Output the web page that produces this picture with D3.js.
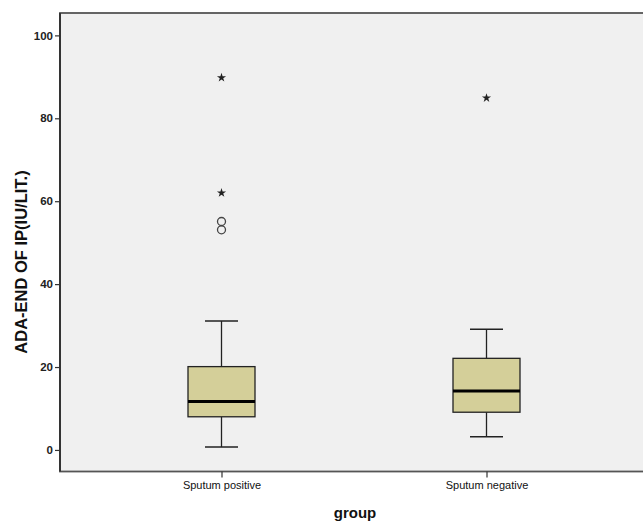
<!DOCTYPE html>
<html><head><meta charset="utf-8">
<script src="https://cdn.jsdelivr.net/npm/d3@7"></script>
<style>body{margin:0;background:#fff}svg{display:block}</style>
</head><body>
<svg id="c" width="643" height="521"></svg>
<script>
const categories = ["Sputum positive", "Sputum negative"];
const q1 = [8.0, 9.1];
const medians = [11.7, 14.2];
const q3 = [20.1, 22.1];
const whiskerLow = [0.7, 3.2];
const whiskerHigh = [31.1, 29.1];
const outlierCategory = ["Sputum positive", "Sputum positive"];
const outlierValues = [55.1, 53.1];
const extremeCategory = ["Sputum positive", "Sputum positive", "Sputum negative"];
const extremeValues = [89.8, 62.0, 84.9];
const yTicks = [0, 20, 40, 60, 80, 100];

const svg = d3.select("#c");
const plotLeft = 60, plotRight = 650, plotTop = 13, plotBottom = 471.5;
const y = d3.scaleLinear().domain([-5.2, 105.4]).range([plotBottom, plotTop]);
const x = d3.scalePoint().domain(categories).range([221.5, 486.5]).padding(0);
const boxW = 67, capW = 33;
const font = "Arial, 'Liberation Sans', sans-serif";

svg.append("rect").attr("x", plotLeft).attr("y", plotTop).attr("width", plotRight - plotLeft).attr("height", plotBottom - plotTop)
  .attr("fill", "#f0f0f0").attr("stroke", "#555").attr("stroke-width", 1.8);
svg.append("line").attr("x1", plotLeft).attr("x2", plotLeft).attr("y1", plotTop).attr("y2", plotBottom)
  .attr("stroke", "#333").attr("stroke-width", 2);

// y axis
const ya = svg.append("g").attr("transform", `translate(${plotLeft},0)`)
  .call(d3.axisLeft(y).tickValues(yTicks).tickSize(5).tickPadding(2).tickFormat(d3.format("d")));
ya.select(".domain").remove();
ya.selectAll("line").attr("stroke", "#333").attr("stroke-width", 1.2);
ya.selectAll("text").attr("font-family", font).attr("font-size", 11.5).attr("font-weight", "bold").attr("fill", "#222");

// x axis
const xa = svg.append("g").attr("transform", `translate(0,${plotBottom})`)
  .call(d3.axisBottom(x).tickSize(6).tickPadding(4));
xa.select(".domain").remove();
xa.selectAll("line").attr("stroke", "#333").attr("stroke-width", 1.2);
xa.selectAll("text").attr("font-family", font).attr("font-size", 11).attr("fill", "#111");

// boxes
const g = svg.append("g");
categories.forEach((c, i) => {
  const cx = x(c);
  g.append("line").attr("x1", cx).attr("x2", cx).attr("y1", y(q3[i])).attr("y2", y(whiskerHigh[i])).attr("stroke", "#222").attr("stroke-width", 1.3);
  g.append("line").attr("x1", cx).attr("x2", cx).attr("y1", y(q1[i])).attr("y2", y(whiskerLow[i])).attr("stroke", "#222").attr("stroke-width", 1.3);
  g.append("line").attr("x1", cx - capW / 2).attr("x2", cx + capW / 2).attr("y1", y(whiskerHigh[i])).attr("y2", y(whiskerHigh[i])).attr("stroke", "#222").attr("stroke-width", 1.5);
  g.append("line").attr("x1", cx - capW / 2).attr("x2", cx + capW / 2).attr("y1", y(whiskerLow[i])).attr("y2", y(whiskerLow[i])).attr("stroke", "#222").attr("stroke-width", 1.5);
  g.append("rect").attr("x", cx - boxW / 2).attr("y", y(q3[i])).attr("width", boxW).attr("height", y(q1[i]) - y(q3[i]))
    .attr("fill", "#d4cf99").attr("stroke", "#222").attr("stroke-width", 1.3);
  g.append("line").attr("x1", cx - boxW / 2).attr("x2", cx + boxW / 2).attr("y1", y(medians[i])).attr("y2", y(medians[i])).attr("stroke", "#000").attr("stroke-width", 3);
});

// outliers
outlierValues.forEach((v, i) => {
  g.append("circle").attr("cx", x(outlierCategory[i])).attr("cy", y(v)).attr("r", 4)
    .attr("fill", "none").attr("stroke", "#444").attr("stroke-width", 1.3);
});
extremeValues.forEach((v, i) => {
  g.append("path").attr("d", d3.symbol(d3.symbolStar, 26)())
    .attr("transform", `translate(${x(extremeCategory[i])},${y(v)})`).attr("fill", "#222");
});

// titles
svg.append("text").attr("x", 355).attr("y", 518).attr("text-anchor", "middle")
  .attr("font-family", font).attr("font-weight", "bold").attr("font-size", 15).attr("fill", "#111").text("group");
svg.append("text").attr("transform", "translate(27,262) rotate(-90)").attr("text-anchor", "middle")
  .attr("font-family", font).attr("font-weight", "bold").attr("font-size", 16.5).attr("fill", "#111").text("ADA-END OF IP(IU/LIT.)");
</script>
</body></html>
